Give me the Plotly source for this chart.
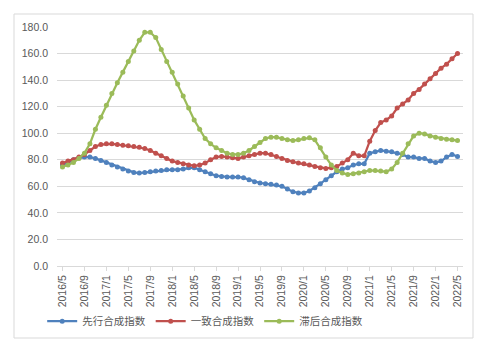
import plotly.graph_objects as go

months = [f"{2016 + (4 + k) // 12}/{(4 + k) % 12 + 1}" for k in range(73)]

lead = [76, 78, 80, 81.5, 82, 82, 81, 79.5, 78, 76, 74.5, 73, 71.5, 70.5, 70, 70.5,
        71, 71.5, 72, 72.5, 72.5, 72.5, 73, 74, 74, 72.5, 71, 69.5, 68, 67.5, 67, 67,
        67, 66.5, 65, 63.5, 62.5, 62, 61.5, 61, 60, 58, 56, 55, 55, 56.5, 59, 62,
        65, 68, 71, 73, 74, 76, 77, 77, 85, 86, 87, 86.5, 86, 85, 84, 82,
        82, 81, 81, 79, 78, 79, 82, 84, 82.5]
coin = [77.5, 79, 80, 82, 84, 87, 90, 91.5, 92, 92, 91.5, 91, 90.5, 90, 89.5, 88.5,
        87, 85, 83, 81, 79, 78, 77, 76, 75.5, 76, 77.5, 80, 82, 82.5, 82, 81.5,
        81, 82, 83, 84, 85, 85, 84, 82.5, 81, 79.5, 78.5, 77.5, 77, 76, 75, 74,
        73.5, 74, 75, 77.5, 80, 85, 83, 83, 94, 102, 108, 110, 113, 119, 122, 125,
        130, 133, 137, 141, 145, 149, 152, 156, 160]
lag = [74.5, 76, 78, 81, 85, 92, 103, 112, 121, 130, 138, 146, 154, 162, 170, 176,
       176, 172, 163, 154, 146, 137, 128, 119, 110, 103, 96, 92, 89, 87, 85, 84,
       84, 85, 87, 90, 93, 96, 97, 97, 96, 95, 94.5, 95, 96, 96.5, 95, 89,
       82, 76, 72, 70, 69, 69.5, 70, 71, 72, 72, 71.5, 71, 73, 78, 85, 92,
       98, 100, 99.5, 98, 97, 96, 95.5, 95, 94.5]

names = ["先行合成指数", "一致合成指数", "滞后合成指数"]
colors = ["#4F81BD", "#C0504D", "#9BBB59"]
series = [lead, coin, lag]

fig = go.Figure()
for nm, col, ys in zip(names, colors, series):
    fig.add_trace(go.Scatter(
        x=months, y=ys, name=nm, mode="lines+markers",
        line=dict(color=col, width=2.25),
        marker=dict(color=col, size=5, symbol="circle"),
    ))

tickfont = dict(family="Liberation Sans, Arial, sans-serif", size=10.5, color="#595959")
fig.update_layout(
    width=484, height=351,
    margin=dict(l=57, r=21, t=27, b=85, autoexpand=False),
    paper_bgcolor="white", plot_bgcolor="white",
    showlegend=True,
    legend=dict(orientation="h", x=0.365, xanchor="center", y=-0.17, yanchor="top",
                font=dict(family="Noto Sans CJK SC, sans-serif", size=10.5, color="#595959"),
                tracegroupgap=0),
    xaxis=dict(type="category", range=[-1, 73], tickvals=months[::4], ticktext=months[::4],
               tickangle=-90, tickfont=tickfont, showgrid=False, automargin=False,
               showline=True, linecolor="#D9D9D9", linewidth=1,
               ticks="outside", ticklen=4, tickcolor="#D9D9D9"),
    yaxis=dict(range=[0, 180], dtick=20, tickformat=".1f", tickfont=tickfont,
               showgrid=True, gridcolor="#D9D9D9", gridwidth=1, zeroline=False,
               showline=False, ticks="", ticklabelstandoff=8, automargin=False),
    shapes=[dict(type="rect", xref="paper", yref="paper",
                 x0=(14 - 57) / 406, x1=(473 - 57) / 406,
                 y0=(266 - 338) / 239, y1=(266 - 14) / 239,
                 line=dict(color="#D9D9D9", width=1), fillcolor="rgba(0,0,0,0)", layer="below")],
)

fig.write_html("out.html")
